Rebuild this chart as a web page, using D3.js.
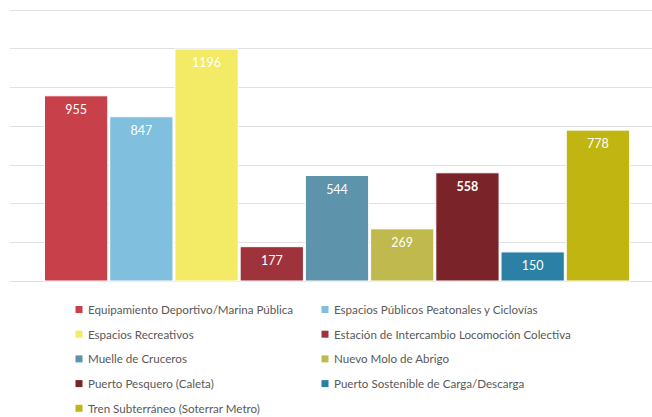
<!DOCTYPE html>
<html>
<head>
<meta charset="utf-8">
<script src="https://cdn.jsdelivr.net/npm/d3@7.9.0/dist/d3.min.js"></script>
<style>
  body { margin: 0; background: #fff; }
  svg { display: block; font-family: Lato, "Open Sans", sans-serif; }
</style>
</head>
<body>
<svg id="chart"></svg>
<script>
const width = 652;
const height = 417;

// data
const series = [
  "Equipamiento Deportivo/Marina Pública",
  "Espacios Públicos Peatonales y Ciclovías",
  "Espacios Recreativos",
  "Estación de Intercambio Locomoción Colectiva",
  "Muelle de Cruceros",
  "Nuevo Molo de Abrigo",
  "Puerto Pesquero (Caleta)",
  "Puerto Sostenible de Carga/Descarga",
  "Tren Subterráneo (Soterrar Metro)"
];
const values = [955, 847, 1196, 177, 544, 269, 558, 150, 778];
const colors = ["#c8404a", "#80c0de", "#f3ea65", "#9e333b", "#5e93ac", "#bfb94e", "#7a2329", "#2b80a5", "#c1b511"];
const boldLabel = [false, false, false, false, false, false, true, false, false];
const yTicks = [0, 200, 400, 600, 800, 1000, 1200, 1400];

const svg = d3.select("#chart").attr("width", width).attr("height", height);

const y = d3.scaleLinear().domain([0, 1400]).range([281, 9.5]);
const x = d3.scaleBand().domain(series).range([44.5, 629.5]).paddingInner(0.03);

// gridlines
svg.append("g")
  .selectAll("line")
  .data(yTicks)
  .join("line")
  .attr("x1", 10)
  .attr("x2", width)
  .attr("y1", d => Math.round(y(d)) + 0.5)
  .attr("y2", d => Math.round(y(d)) + 0.5)
  .attr("stroke", "#e0e0e0")
  .attr("stroke-width", 1);

// bars
svg.append("g")
  .selectAll("rect")
  .data(series)
  .join("rect")
  .attr("x", d => x(d))
  .attr("y", (d, i) => y(values[i]))
  .attr("width", x.bandwidth())
  .attr("height", (d, i) => y(0) - y(values[i]))
  .attr("fill", (d, i) => colors[i])
  .attr("stroke", "#fff")
  .attr("stroke-width", 1);

// value labels
svg.append("g")
  .selectAll("text")
  .data(series)
  .join("text")
  .attr("x", d => x(d) + x.bandwidth() / 2)
  .attr("y", (d, i) => y(values[i]) + 18)
  .attr("text-anchor", "middle")
  .attr("fill", "#fff")
  .style("font-size", "12.5px")
  .style("font-weight", (d, i) => boldLabel[i] ? "bold" : "normal")
  .text((d, i) => values[i]);

// legend
const legendCols = [79, 325];
const legend = svg.append("g")
  .selectAll("g")
  .data(series)
  .join("g")
  .attr("transform", (d, i) => `translate(${legendCols[i % 2]}, ${309.5 + Math.floor(i / 2) * 24.7})`);

legend.append("rect")
  .attr("x", -3.5)
  .attr("y", -3.5)
  .attr("width", 7)
  .attr("height", 7)
  .attr("fill", (d, i) => colors[i]);

legend.append("text")
  .attr("x", 9)
  .attr("y", 4.5)
  .attr("fill", "#595959")
  .style("font-size", "11.6px")
  .text(d => d);
</script>
</body>
</html>
